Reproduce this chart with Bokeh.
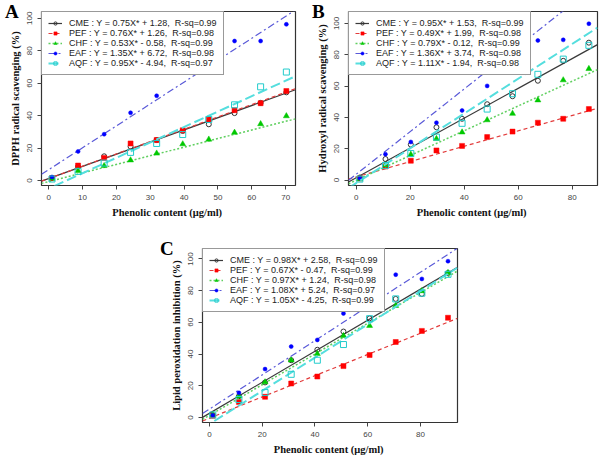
from bokeh.plotting import figure
from bokeh.layouts import column, row, Spacer
from bokeh.models import Legend, LegendItem, Div
from bokeh.embed import file_html
from bokeh.resources import INLINE

series_names = ["CME", "PEF", "CHF", "EAF", "AQF"]

# ---------------- Panel A : DPPH ----------------
A_x = [1.0, 8.7, 16.4, 24.2, 31.9, 39.6, 47.3, 54.9, 62.6, 70.2]
A_CME = [1.6, 8.7, 15.0, 21.0, 25.0, 30.6, 34.7, 41.6, 47.9, 54.4]
A_PEF = [1.6, 9.3, 14.0, 22.9, 25.0, 31.0, 37.7, 43.4, 47.7, 55.2]
A_CHF = [1.4, 6.1, 9.1, 12.6, 16.8, 22.5, 25.4, 29.6, 34.9, 39.8]
A_EAF = [2.2, 18.0, 28.6, 41.8, 52.3, 68.2, 73.0, 86.0, 86.0, 96.3]
A_AQF = [1.0, 5.7, 10.8, 17.4, 22.9, 28.4, 37.7, 46.7, 57.8, 66.9]
A_slopes = [0.75, 0.76, 0.53, 1.35, 0.95]
A_intercepts = [1.28, 1.26, -0.58, 6.72, -4.94]
A_rsq = [0.99, 0.98, 0.99, 0.98, 0.97]
A_xticks = [0, 10, 20, 30, 40, 50, 60, 70]

# ---------------- Panel B : Hydroxyl ----------------
B_x = [1.3, 10.8, 20.2, 29.7, 39.2, 48.5, 57.9, 67.3, 76.7, 86.2]
B_CME = [1.6, 13.4, 22.6, 33.7, 39.1, 48.4, 53.5, 63.4, 76.1, 87.7]
B_PEF = [1.0, 8.6, 12.3, 18.9, 21.8, 27.4, 30.9, 36.6, 39.1, 45.3]
B_CHF = [0.6, 9.5, 16.3, 26.3, 30.5, 38.3, 42.4, 51.0, 63.8, 71.0]
B_EAF = [1.2, 16.5, 24.3, 36.6, 44.4, 60.1, 74.9, 89.1, 89.5, 99.8]
B_AQF = [0.6, 9.3, 16.9, 27.4, 36.2, 45.3, 55.1, 67.5, 77.2, 86.0]
B_slopes = [0.95, 0.49, 0.79, 1.36, 1.11]
B_intercepts = [1.53, 1.99, -0.12, 3.74, -1.94]
B_rsq = [0.99, 0.98, 0.99, 0.98, 0.98]
B_xticks = [0, 20, 40, 60, 80]

# ---------------- Panel C : Lipid peroxidation ----------------
C_x = [1.3, 11.2, 21.1, 31.0, 40.9, 50.8, 60.7, 70.6, 80.5, 90.4]
C_CME = [1.4, 13.4, 22.1, 36.1, 42.7, 54.2, 62.5, 74.8, 77.9, 91.1]
C_PEF = [1.0, 9.7, 13.0, 21.4, 25.8, 32.4, 39.4, 47.6, 54.6, 62.9]
C_CHF = [1.6, 13.4, 22.3, 36.1, 40.2, 51.5, 57.9, 70.5, 79.8, 91.3]
C_EAF = [1.4, 15.5, 30.5, 44.7, 48.9, 65.6, 73.6, 90.1, 87.4, 98.6]
C_AQF = [1.6, 11.3, 15.7, 27.2, 36.1, 46.0, 62.3, 74.8, 78.4, 90.3]
C_slopes = [0.98, 0.67, 0.97, 1.08, 1.05]
C_intercepts = [2.58, -0.47, 1.24, 5.24, -4.25]
C_rsq = [0.99, 0.99, 0.98, 0.97, 0.99]
C_xticks = [0, 20, 40, 60, 80]

y_ticks = [0, 20, 40, 60, 80, 100]
panel_letters = ["A", "B", "C"]

# styles per series (not data)
STY = {
    "CME": dict(lc="#3a3a3a", dash="solid", lw=1.2, marker="circle", size=5,
                fill=None, mline="#333333"),
    "PEF": dict(lc="#e23b3b", dash="4 3", lw=1.2, marker="square", size=5,
                fill="#ff0000", mline="#ff0000"),
    "CHF": dict(lc="#5fcf5f", dash="2 2", lw=1.5, marker="triangle", size=6,
                fill="#00c800", mline="#00c800"),
    "EAF": dict(lc="#5a5ad8", dash="7 3 2 3", lw=1.2, marker="circle", size=4,
                fill="#0000ff", mline="#0000ff"),
    "AQF": dict(lc="#55dede", dash="10 4", lw=2.0, marker="square", size=6,
                fill=None, mline="#22cccc"),
}


def fmt_label(name, s, b, r):
    sign = "+" if b >= 0 else "-"
    return f"{name} : Y = {s:.2f}X* {sign} {abs(b):.2f},  R-sq={r:.2f}"


def make_panel(xs, ys_list, slopes, intercepts, rsq, xr, yr, xticks, ylabel,
               width, height, mb):
    p = figure(width=width, height=height, x_range=xr, y_range=yr,
               output_backend="svg", toolbar_location=None,
               min_border_left=mb[0], min_border_right=mb[1],
               min_border_top=mb[2], min_border_bottom=mb[3])
    p.grid.visible = False
    p.outline_line_color = "#333333"
    p.outline_line_width = 1.2
    p.background_fill_color = "white"
    p.border_fill_color = "white"
    for ax in (p.xaxis, p.yaxis):
        ax.axis_line_color = None
        ax.major_tick_line_color = "#444444"
        ax.major_tick_out = 4
        ax.major_tick_in = 0
        ax.minor_tick_line_color = None
        ax.major_label_text_font = "Liberation Sans"
        ax.major_label_text_font_size = "8px"
        ax.major_label_text_color = "#444444"
        ax.major_label_standoff = 5
        ax.axis_label_text_font = "Liberation Serif"
        ax.axis_label_text_font_style = "bold"
        ax.axis_label_text_font_size = "10.5px"
        ax.axis_label_text_color = "#111111"
        ax.axis_label_standoff = 4
    p.xaxis.ticker = xticks
    p.yaxis.ticker = y_ticks
    p.yaxis.major_label_orientation = "vertical"
    p.xaxis.axis_label = "Phenolic content  (\u03bcg/ml)"
    p.yaxis.axis_label = ylabel

    items = []
    for name, ys, s, b, r in zip(series_names, ys_list, slopes, intercepts, rsq):
        st = STY[name]
        lx = [xr[0], xr[1]]
        ly = [s * v + b for v in lx]
        lr = p.line(lx, ly, line_color=st["lc"], line_dash=st["dash"],
                    line_width=st["lw"])
        if st["fill"] is None:
            sr = p.scatter(xs, ys, marker=st["marker"], size=st["size"],
                           fill_color=None, line_color=st["mline"], line_width=1)
        else:
            sr = p.scatter(xs, ys, marker=st["marker"], size=st["size"],
                           fill_color=st["fill"], line_color=st["mline"],
                           line_width=0.5)
        items.append(LegendItem(label=fmt_label(name, s, b, r),
                                renderers=[lr, sr]))
    leg = Legend(items=items, location="top_left", margin=0, padding=6,
                 spacing=-2, glyph_width=14, glyph_height=8, label_height=8,
                 label_standoff=7, label_text_font="Liberation Sans",
                 label_text_font_size="9px", label_text_color="#222222",
                 border_line_color="#333333", border_line_width=1,
                 background_fill_color="white", background_fill_alpha=1.0)
    p.add_layout(leg, "center")
    return p


def letter_div(txt, left, top):
    return Div(text=txt, width=16, height=22,
               styles={"position": "absolute", "left": f"{left}px",
                       "top": f"{top}px", "z-index": "10",
                       "font-family": "Liberation Serif", "font-weight": "bold",
                       "font-size": "19px", "line-height": "1",
                       "color": "black"})


# Panel A  (page x 0-300, y 0-226)
pA = make_panel(A_x, [A_CME, A_PEF, A_CHF, A_EAF, A_AQF], A_slopes, A_intercepts,
                A_rsq, (-2.1, 72.9), (-3.0, 104.2), A_xticks,
                "DPPH radical scavenging (%)", 300, 226, (41, 5, 11, 38))
# Panel B  (page x 300-600, y 0-226)
pB = make_panel(B_x, [B_CME, B_PEF, B_CHF, B_EAF, B_AQF], B_slopes, B_intercepts,
                B_rsq, (-2.9, 89.4), (-3.5, 107.6), B_xticks,
                "Hydroxyl radical scavenging (%)", 300, 226, (48, 3, 5, 41))
# Panel C  (page x 150-462, y 226-457)
pC = make_panel(C_x, [C_CME, C_PEF, C_CHF, C_EAF, C_AQF], C_slopes, C_intercepts,
                C_rsq, (-2.6, 94.0), (-3.2, 106.6), C_xticks,
                "Lipid peroxidation inhibition (%)", 312, 231, (52, 5, 22, 31))

dA = letter_div(panel_letters[0], 0, -3)
dB = letter_div(panel_letters[1], 307, -3)
dC = letter_div(panel_letters[2], 155, 234)

layout = column(row(pA, pB), row(Spacer(width=150, height=231), pC), dA, dB, dC)

open("out.html", "w").write(file_html(layout, INLINE))
